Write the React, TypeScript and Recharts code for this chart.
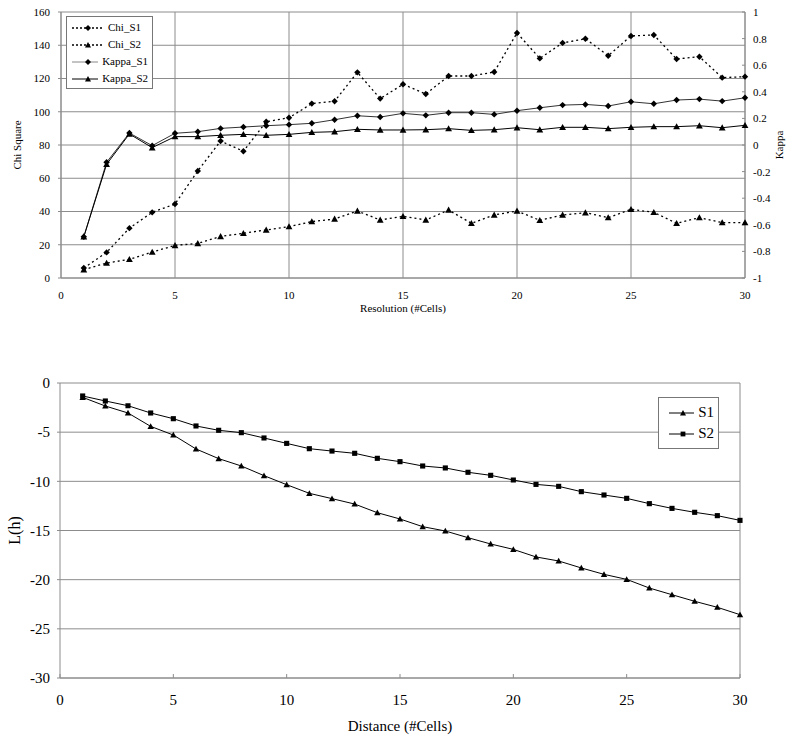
import React from 'react';
import {
  LineChart,
  Line,
  XAxis,
  YAxis,
  CartesianGrid,
  Legend,
  Label,
  ReferenceLine,
} from 'recharts';

// top chart: resolution vs chi square / kappa
const resolution = [1, 2, 3, 4, 5, 6, 7, 8, 9, 10, 11, 12, 13, 14, 15, 16, 17, 18, 19, 20, 21, 22, 23, 24, 25, 26, 27, 28, 29, 30];
const chiS1 = [6, 15.4, 30, 39.5, 44.5, 64.4, 82.4, 76.2, 94, 96.4, 104.9, 106.3, 123.7, 107.9, 116.5, 110.7, 121.5, 121.5, 123.9, 147.4, 132.1, 141.4, 143.9, 133.7, 145.6, 146.2, 131.7, 133.1, 120.5, 121.1];
const chiS2 = [5, 9, 11.2, 15.6, 19.6, 20.8, 25, 26.9, 28.9, 30.9, 33.9, 35.5, 40.3, 34.9, 37.1, 34.9, 40.9, 32.9, 37.9, 40.3, 34.7, 37.9, 39.3, 36.3, 41.3, 39.5, 32.9, 36.3, 33.3, 33.3];
const kappaS1 = [-0.69, -0.13, 0.09, -0.005, 0.088, 0.1, 0.125, 0.135, 0.145, 0.153, 0.163, 0.19, 0.22, 0.21, 0.238, 0.223, 0.243, 0.243, 0.23, 0.258, 0.28, 0.3, 0.305, 0.293, 0.325, 0.31, 0.338, 0.345, 0.33, 0.355];
const kappaS2 = [-0.69, -0.145, 0.083, -0.02, 0.063, 0.063, 0.073, 0.08, 0.073, 0.08, 0.095, 0.1, 0.118, 0.113, 0.113, 0.115, 0.123, 0.11, 0.115, 0.13, 0.115, 0.133, 0.133, 0.123, 0.133, 0.138, 0.138, 0.145, 0.13, 0.148];

const xTicks = [0, 5, 10, 15, 20, 25, 30];
const chiTicks = [0, 20, 40, 60, 80, 100, 120, 140, 160];
const kappaTicks = [-1, -0.8, -0.6, -0.4, -0.2, 0, 0.2, 0.4, 0.6, 0.8, 1];

// bottom chart: distance vs L(h)
const distance = [1, 2, 3, 4, 5, 6, 7, 8, 9, 10, 11, 12, 13, 14, 15, 16, 17, 18, 19, 20, 21, 22, 23, 24, 25, 26, 27, 28, 29, 30];
const lhS1 = [-1.46, -2.34, -3.05, -4.41, -5.29, -6.71, -7.69, -8.44, -9.42, -10.34, -11.22, -11.76, -12.31, -13.19, -13.83, -14.61, -15.05, -15.73, -16.37, -16.92, -17.69, -18.1, -18.81, -19.46, -19.97, -20.85, -21.53, -22.2, -22.81, -23.56];
const lhS2 = [-1.32, -1.83, -2.31, -3.05, -3.63, -4.37, -4.81, -5.05, -5.59, -6.14, -6.68, -6.92, -7.15, -7.66, -8.0, -8.44, -8.64, -9.08, -9.39, -9.86, -10.31, -10.51, -11.05, -11.39, -11.73, -12.27, -12.75, -13.15, -13.49, -13.97];
const lhTicks = [-30, -25, -20, -15, -10, -5, 0];

const topData = resolution.map((x, i) => ({
  x,
  chiS1: chiS1[i],
  chiS2: chiS2[i],
  kappaS1: kappaS1[i],
  kappaS2: kappaS2[i],
}));

const bottomData = distance.map((x, i) => ({ x, s1: lhS1[i], s2: lhS2[i] }));

const FONT = '"Liberation Serif", "Times New Roman", serif';
const GRID = '#8c8c8c';

type Shape = 'diamond' | 'triangle' | 'square';

function markerPath(shape: Shape, cx: number, cy: number, r: number) {
  if (shape === 'diamond') return `M${cx},${cy - r}L${cx + r},${cy}L${cx},${cy + r}L${cx - r},${cy}Z`;
  if (shape === 'triangle') return `M${cx},${cy - r}L${cx + r},${cy + r * 0.8}L${cx - r},${cy + r * 0.8}Z`;
  return `M${cx - r * 0.8},${cy - r * 0.8}h${r * 1.6}v${r * 1.6}h${-r * 1.6}Z`;
}

const makeDot = (shape: Shape, r: number) => (props: any) => {
  const { cx, cy, index } = props;
  if (cx == null || cy == null) return <g key={`d-${index}`} />;
  return <path key={`d-${shape}-${index}`} d={markerPath(shape, cx, cy, r)} fill="#000" stroke="none" />;
};

function LegendRow({ dash, shape, label, fontSize, lineW, r, color = '#000' }: any) {
  return (
    <div style={{ display: 'flex', alignItems: 'center', height: fontSize + 6 }}>
      <svg width={lineW} height={12} style={{ marginRight: 4 }}>
        <line x1={0} y1={6} x2={lineW} y2={6} stroke={color} strokeWidth={dash ? 1.5 : 1} strokeDasharray={dash} />
        <path d={markerPath(shape, lineW / 2, 6, r)} fill="#000" />
      </svg>
      <span style={{ fontSize, fontFamily: FONT, color: '#000', lineHeight: 1 }}>{label}</span>
    </div>
  );
}

function TopLegend() {
  return (
    <div style={{ border: '1px solid #777', background: '#fff', padding: '2px 4px 1px 5px', width: 76 }}>
      <LegendRow dash="2 2" shape="diamond" label="Chi_S1" fontSize={11} lineW={32} r={3} />
      <LegendRow dash="2 2" shape="triangle" label="Chi_S2" fontSize={11} lineW={32} r={3} />
      <LegendRow shape="diamond" label="Kappa_S1" fontSize={11} lineW={32} r={3} color="#888" />
      <LegendRow shape="triangle" label="Kappa_S2" fontSize={11} lineW={32} r={3} />
    </div>
  );
}

function BottomLegend() {
  return (
    <div style={{ border: '1px solid #777', background: '#fff', padding: '4px 4px 4px 10px', width: 45 }}>
      <LegendRow shape="triangle" label="S1" fontSize={15} lineW={28} r={3} />
      <LegendRow shape="square" label="S2" fontSize={15} lineW={28} r={3} />
    </div>
  );
}

export default function App() {
  return (
    <div style={{ position: 'absolute', left: 0, top: 0, width: 788, height: 740, background: '#fff', fontFamily: FONT }}>
      <div style={{ position: 'absolute', left: 0, top: 0 }}>
        <LineChart width={788} height={320} data={topData} margin={{ top: 12, right: 0, bottom: 0, left: 0 }}>
          <CartesianGrid yAxisId="left" stroke={GRID} />
          <XAxis
            dataKey="x"
            type="number"
            domain={[0, 30]}
            ticks={xTicks}
            height={42}
            stroke={GRID}
            tickLine={false}
            tickSize={5}
            tickMargin={8}
            tick={{ fill: '#000', fontSize: 11, fontFamily: FONT }}
          >
            <Label value="Resolution (#Cells)" position="insideBottom" offset={8} style={{ fontSize: 11, fontFamily: FONT, fill: '#000' }} />
          </XAxis>
          <YAxis
            yAxisId="left"
            domain={[0, 160]}
            ticks={chiTicks}
            width={61}
            stroke={GRID}
            tickSize={3}
            tickMargin={8}
            tick={{ fill: '#000', fontSize: 11, fontFamily: FONT }}
          >
            <Label value="Chi Square" angle={-90} position="insideLeft" offset={17} style={{ fontSize: 11, fontFamily: FONT, fill: '#000', textAnchor: 'middle' }} />
          </YAxis>
          <YAxis
            yAxisId="right"
            orientation="right"
            domain={[-1, 1]}
            ticks={kappaTicks}
            width={43}
            stroke={GRID}
            tickSize={-3}
            tickMargin={11}
            tick={{ fill: '#000', fontSize: 11, fontFamily: FONT }}
          >
            <Label value="Kappa" angle={-90} position="insideRight" offset={9} style={{ fontSize: 11, fontFamily: FONT, fill: '#000', textAnchor: 'middle' }} />
          </YAxis>
          <Legend
            layout="vertical"
            align="center"
            verticalAlign="middle"
            content={() => <TopLegend />}
            wrapperStyle={{ left: 66, top: 16, width: 'auto' }}
          />
          <Line yAxisId="left" dataKey="chiS1" name="Chi_S1" type="linear" stroke="#000" strokeWidth={1.3} strokeDasharray="2 3" dot={makeDot('diamond', 3.2)} activeDot={false} isAnimationActive={false} />
          <Line yAxisId="left" dataKey="chiS2" name="Chi_S2" type="linear" stroke="#000" strokeWidth={1.3} strokeDasharray="2 3" dot={makeDot('triangle', 3.4)} activeDot={false} isAnimationActive={false} />
          <Line yAxisId="right" dataKey="kappaS1" name="Kappa_S1" type="linear" stroke="#333" strokeWidth={1} dot={makeDot('diamond', 3.2)} activeDot={false} isAnimationActive={false} />
          <Line yAxisId="right" dataKey="kappaS2" name="Kappa_S2" type="linear" stroke="#000" strokeWidth={1} dot={makeDot('triangle', 3.4)} activeDot={false} isAnimationActive={false} />
        </LineChart>
      </div>

      <div style={{ position: 'absolute', left: 0, top: 330 }}>
        <LineChart width={788} height={410} data={bottomData} margin={{ top: 53, right: 48, bottom: 0, left: 0 }}>
          <CartesianGrid vertical={false} stroke={GRID} />
          <ReferenceLine x={30} stroke={GRID} />
          <XAxis
            dataKey="x"
            type="number"
            domain={[0, 30]}
            ticks={xTicks}
            height={62}
            stroke={GRID}
            tickSize={-4}
            tickMargin={20}
            tick={{ fill: '#000', fontSize: 15, fontFamily: FONT }}
          >
            <Label value="Distance (#Cells)" position="insideBottom" offset={9} style={{ fontSize: 15, fontFamily: FONT, fill: '#000' }} />
          </XAxis>
          <YAxis
            domain={[-30, 0]}
            ticks={lhTicks}
            width={60}
            stroke={GRID}
            tickSize={3}
            tickMargin={7}
            tick={{ fill: '#000', fontSize: 15, fontFamily: FONT }}
          >
            <Label value="L(h)" angle={-90} position="insideLeft" offset={14} style={{ fontSize: 16, fontFamily: FONT, fill: '#000', textAnchor: 'middle' }} />
          </YAxis>
          <Legend
            layout="vertical"
            align="center"
            verticalAlign="middle"
            content={() => <BottomLegend />}
            wrapperStyle={{ left: 658, top: 67, width: 'auto' }}
          />
          <Line dataKey="s1" name="S1" type="linear" stroke="#000" strokeWidth={1} dot={makeDot('triangle', 3.2)} activeDot={false} isAnimationActive={false} />
          <Line dataKey="s2" name="S2" type="linear" stroke="#000" strokeWidth={1} dot={makeDot('square', 3.2)} activeDot={false} isAnimationActive={false} />
        </LineChart>
      </div>
    </div>
  );
}
